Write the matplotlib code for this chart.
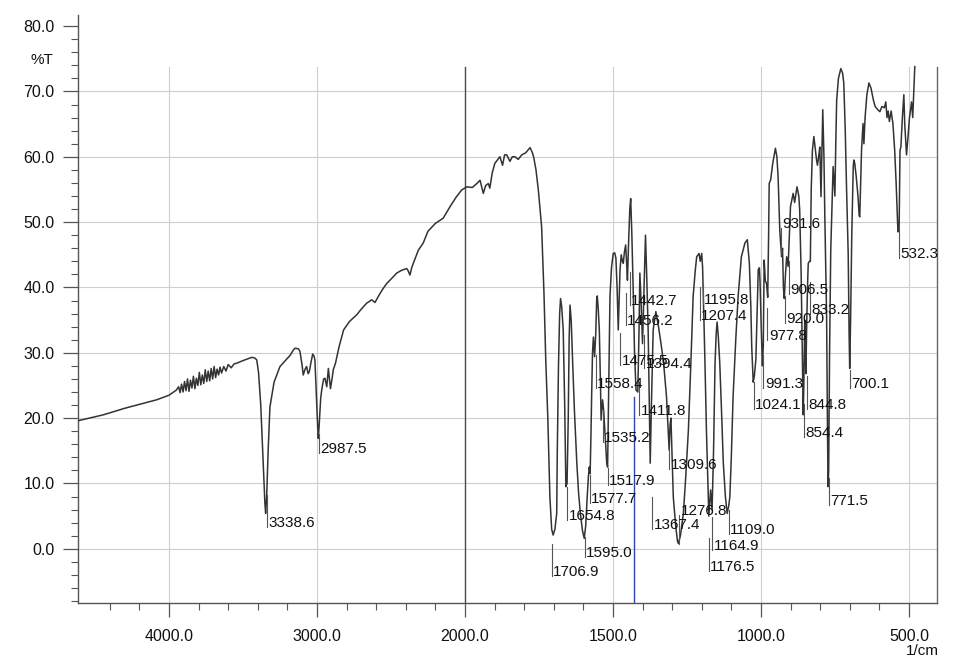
import numpy as np
import matplotlib
matplotlib.use("Agg")
import matplotlib.pyplot as plt
from matplotlib.ticker import FixedLocator

plt.rcParams['font.family'] = ['Liberation Sans', 'DejaVu Sans']

# spectrum: wavenumber (1/cm) and %T
wavenumber = [
    4615, 4444, 4300, 4200, 4084, 4000, 3950,
    3935, 3925, 3915, 3905, 3895, 3885, 3875, 3865, 3855, 3845, 3835, 3825,
    3815, 3805, 3795, 3785, 3775, 3765, 3755, 3745, 3735, 3725, 3715, 3705,
    3695, 3685, 3675, 3665, 3655, 3645, 3630, 3615, 3600, 3580, 3560,
    3543, 3500, 3441, 3420, 3407, 3395, 3380, 3365, 3352, 3347, 3340, 3330,
    3318, 3290, 3250, 3182, 3160, 3149, 3125, 3115, 3100, 3093, 3080, 3070,
    3060, 3052, 3040, 3029, 3020, 3014, 3005, 2995, 2991, 2985, 2975, 2968,
    2955, 2946, 2934, 2923, 2909, 2897, 2890, 2875, 2850, 2820, 2780, 2732,
    2700, 2664, 2630, 2608, 2586, 2560, 2529, 2490, 2461, 2430, 2394, 2385,
    2372, 2360, 2349, 2315, 2282, 2250, 2200, 2147, 2100, 2060, 2023, 1994,
    1975, 1960, 1949, 1938, 1930, 1921, 1916, 1908, 1899, 1882, 1873, 1866,
    1859, 1848, 1840, 1831, 1820, 1808, 1795, 1780, 1772, 1768, 1760, 1752,
    1741, 1733, 1727, 1720, 1713, 1707, 1702, 1696, 1690, 1688, 1684, 1680,
    1677, 1673, 1668, 1663, 1659, 1655, 1651, 1648, 1645, 1641, 1636, 1630,
    1622, 1616, 1610, 1603, 1597, 1592, 1587, 1583, 1580, 1577, 1574, 1572,
    1569, 1566, 1562, 1558, 1555, 1553, 1550, 1546, 1542, 1540, 1537, 1535,
    1531, 1526, 1521, 1518, 1514, 1510, 1505, 1499, 1494, 1490, 1486, 1482,
    1479, 1476, 1472, 1468, 1465, 1461, 1457, 1454, 1451, 1447, 1443, 1440,
    1436, 1431, 1427, 1422, 1416, 1412, 1409, 1405, 1400, 1395, 1390, 1386,
    1381, 1377, 1374, 1370, 1364, 1355, 1346, 1336, 1328, 1319, 1313, 1310,
    1307, 1304, 1300, 1296, 1288, 1282, 1279, 1272, 1262, 1254, 1245, 1237,
    1229, 1222, 1217, 1209, 1205, 1200, 1197, 1195, 1192, 1189, 1184, 1178,
    1176, 1173, 1170, 1165, 1160, 1155, 1151, 1148, 1144, 1139, 1133, 1127,
    1120, 1114, 1109, 1105, 1100, 1094, 1085, 1077, 1066, 1054, 1046, 1039,
    1034, 1031, 1026, 1022, 1017, 1013, 1009, 1005, 1003, 999, 995, 992,
    989, 985, 981, 977, 974, 972, 967, 960, 951, 946, 942, 936,
    933, 930, 927, 924, 921, 917, 913, 908, 904, 900, 891, 886,
    878, 872, 869, 864, 860, 857, 855, 852, 850, 848, 845, 842,
    840, 836, 833, 830, 826, 821, 812, 809, 805, 801, 797, 791,
    787, 784, 778, 775, 773, 771, 768, 764, 760, 756, 750, 747,
    744, 738, 730, 724, 720, 715, 711, 705, 702, 700, 697, 693,
    688, 686, 683, 678, 672, 668, 666, 663, 660, 655, 652, 648,
    642, 635, 628, 620, 614, 605, 598, 591, 583, 578, 574, 570,
    566, 560, 554, 548, 543, 537, 533, 530, 527, 522, 517, 514,
    508, 503, 498, 491, 487, 480,
]
transmittance = [
    19.6, 20.5, 21.5, 22.1, 22.8, 23.5, 24.3,
    24.8, 23.9, 25.2, 24.0, 25.6, 24.2, 26.0, 24.1, 25.8, 24.6, 26.4, 24.5,
    26.1, 25.0, 27.0, 25.1, 26.6, 25.3, 27.4, 25.6, 27.2, 25.7, 27.6, 26.0,
    27.9, 26.2, 27.5, 26.6, 27.8, 26.9, 27.9, 27.2, 28.2, 27.7, 28.3,
    28.4, 28.8, 29.3, 29.2, 28.9, 27.0, 22.0, 14.0, 7.0, 5.4, 8.0, 15.0,
    21.7, 25.5, 27.9, 29.6, 30.4, 30.7, 30.6, 30.2, 28.0, 26.6, 27.5, 27.9,
    26.8, 27.1, 28.6, 29.8, 29.5, 28.9, 24.0, 18.5, 16.9, 19.0, 23.0, 24.3,
    26.0, 26.1, 24.8, 27.6, 24.5, 26.2, 27.4, 28.4, 31.0, 33.5, 34.8, 35.8,
    36.7, 37.6, 38.1, 37.7, 38.6, 39.6, 40.6, 41.5, 42.2, 42.6, 42.9, 42.6,
    41.9, 43.0, 43.7, 45.7, 46.8, 48.6, 49.8, 50.6, 52.4, 53.8, 54.9, 55.4,
    55.3, 55.9, 56.4, 54.4, 55.6, 55.9, 55.2, 57.5, 59.0, 60.0, 58.7, 60.3,
    60.3, 59.3, 60.0, 60.0, 59.6, 60.3, 60.6, 61.4, 60.6, 60.0, 58.0, 54.9,
    49.3, 39.1, 28.9, 20.0, 7.9, 3.0, 2.1, 3.0, 5.4, 15.0, 28.0, 36.0,
    38.3, 37.0, 33.5, 22.0, 9.5, 10.0, 20.0, 32.0, 37.3, 35.0, 28.4, 21.0,
    13.1, 8.5, 5.4, 2.8, 1.6, 3.5, 7.9, 11.0, 12.5, 11.5, 18.0, 23.3,
    30.0, 32.4, 29.4, 33.0, 38.0, 38.7, 37.0, 33.5, 25.0, 19.7, 21.5, 22.8,
    21.0, 17.0, 13.1, 12.5, 25.0, 38.6, 43.0, 45.2, 45.3, 44.5, 40.0, 33.5,
    38.0, 42.7, 45.0, 44.0, 43.7, 45.5, 46.5, 44.0, 41.1, 47.0, 52.0, 53.6,
    48.0, 38.6, 30.0, 24.3, 24.0, 33.0, 42.2, 38.0, 31.4, 40.0, 48.0, 42.0,
    33.5, 22.0, 13.1, 22.0, 33.5, 36.3, 34.0, 30.9, 28.0, 23.3, 18.0, 15.1,
    19.0, 20.0, 14.0, 7.9, 3.5, 1.2, 0.8, 2.0, 5.4, 11.0, 18.2, 28.0,
    38.6, 42.5, 44.7, 45.2, 44.0, 45.2, 43.0, 39.6, 34.0, 28.4, 18.0, 7.9,
    5.0, 7.0, 9.0, 6.0, 15.0, 28.4, 33.0, 34.7, 32.5, 28.4, 21.0, 13.1,
    8.0, 5.4, 6.5, 7.9, 14.0, 23.3, 32.0, 38.6, 44.7, 46.8, 47.3, 43.7,
    37.0, 30.9, 25.5, 26.5, 29.0, 36.0, 42.7, 43.0, 41.0, 34.0, 28.0, 31.0,
    44.2, 41.0, 40.6, 38.5, 48.0, 55.9, 56.5, 59.0, 61.3, 60.0, 57.0, 48.5,
    46.5, 44.7, 46.0, 40.0, 38.3, 42.0, 44.7, 43.2, 48.0, 52.4, 54.4, 53.0,
    55.4, 54.0, 51.9, 42.0, 30.0, 20.5, 25.0, 35.0, 30.0, 26.8, 35.0, 41.0,
    43.7, 44.0, 44.0, 55.0, 61.0, 63.1, 59.5, 58.7, 60.0, 61.5, 53.9, 67.2,
    60.0, 50.8, 35.5, 18.0, 9.5, 12.0, 30.0, 45.7, 52.0, 58.5, 54.0, 62.0,
    68.7, 72.0, 73.5, 72.8, 71.3, 64.0, 55.9, 45.0, 33.0, 27.6, 35.0, 48.0,
    58.5, 59.5, 59.0, 57.0, 54.0, 51.0, 50.8, 56.0, 61.0, 65.1, 62.0, 66.0,
    69.5, 71.3, 70.5, 68.7, 67.7, 67.2, 66.9, 67.7, 67.5, 68.4, 66.0, 67.0,
    65.4, 67.0, 65.1, 61.0, 55.9, 48.5, 49.0, 61.0, 61.5, 66.0, 69.5, 65.0,
    60.3, 63.0, 66.0, 68.4, 66.0, 73.8,
]

# peak labels and the %T level where each label sits
peak_labels = [
    "3338.6", "2987.5", "1706.9", "1654.8", "1595.0", "1577.7", "1558.4",
    "1535.2", "1517.9", "1475.5", "1456.2", "1442.7", "1411.8", "1394.4",
    "1367.4", "1309.6", "1276.8", "1207.4", "1195.8", "1176.5", "1164.9",
    "1109.0", "1024.1", "991.3", "977.8", "931.6", "920.0", "906.5",
    "854.4", "844.8", "833.2", "771.5", "700.1", "532.3",
]
label_T = [
    3.3, 14.6, -4.2, 4.4, -1.3, 7.0, 24.6,
    16.3, 9.7, 28.1, 34.2, 37.3, 20.5, 27.7,
    3.0, 12.2, 5.1, 35.0, 37.5, -3.4, -0.2,
    2.2, 21.4, 24.6, 31.9, 49.1, 34.5, 39.0,
    17.1, 21.4, 35.9, 6.7, 24.6, 44.5,
]

x_major = [4000, 3000, 2000, 1500, 1000, 500]
x_minor = [4400, 4200, 3800, 3600, 3400, 3200, 2800, 2600, 2400, 2200,
           1900, 1800, 1700, 1600, 1400, 1300, 1200, 1100, 900, 800, 700, 600]
y_major = [0, 10, 20, 30, 40, 50, 60, 70, 80]
cursor_wn = 1429


def fwd(w):
    w = np.asarray(w, dtype=float)
    return np.where(w > 2000, 2000 + (w - 2000) / 2, w)


def inv(u):
    u = np.asarray(u, dtype=float)
    return np.where(u > 2000, 2000 + (u - 2000) * 2, u)


fig = plt.figure(figsize=(9.56, 6.62), dpi=100)
ax = fig.add_axes([78 / 956, 59 / 662, 859 / 956, 588 / 662])
ax.set_xscale('function', functions=(fwd, inv))
x_lo, x_hi = 4615, 405
y_lo, y_hi = -8.3, 81.7
ax.set_xlim(x_lo, x_hi)
ax.set_ylim(y_lo, y_hi)

frame_top = (73.7 - y_lo) / (y_hi - y_lo)
grid_c = '#cfcfcf'
for y in y_major[:-1]:
    ax.axhline(y, color=grid_c, lw=0.8, zorder=1)
for x in x_major:
    if x == 2000:
        ax.axvline(x, ymax=frame_top, color='#4a4a4a', lw=1.0, zorder=1)
    else:
        ax.axvline(x, ymax=frame_top, color=grid_c, lw=0.8, zorder=1)
ax.axvline(x_hi, ymax=frame_top, color='#666666', lw=1.0, zorder=1, clip_on=False)

wn = np.array(wavenumber, dtype=float)
tr = np.array(transmittance, dtype=float)
ax.plot(wn, tr, color='#333333', lw=1.1, zorder=3)

ax.axvline(cursor_wn, ymax=(23.3 - y_lo) / (y_hi - y_lo), color='#3045b5', lw=1.0, zorder=2)

# peak markers
for lab, ty in zip(peak_labels, label_T):
    x = float(lab)
    curve = np.interp(x, wn[::-1], tr[::-1])
    top = min(curve - 0.5, ty + 5)
    ax.plot([x, x], [ty, top], color='#555555', lw=0.8, zorder=4)
    ax.annotate(lab, xy=(x, ty), xytext=(1, 0), textcoords='offset points',
                ha='left', va='baseline', fontsize=11, color='#111111', zorder=5)

ax.spines['top'].set_visible(False)
ax.spines['right'].set_visible(False)
for s in ('left', 'bottom'):
    ax.spines[s].set_color('#555555')
    ax.spines[s].set_linewidth(1.0)

ax.xaxis.set_major_locator(FixedLocator(x_major))
ax.xaxis.set_minor_locator(FixedLocator(x_minor))
ax.set_xticklabels([f"{v:.1f}" for v in x_major])
ax.yaxis.set_major_locator(FixedLocator(y_major))
ax.yaxis.set_minor_locator(FixedLocator(list(range(-8, 81, 2))))
ax.set_yticklabels([f"{v:.1f}" for v in y_major])

ax.tick_params(axis='x', which='major', length=10, width=0.9, color='#555555',
               pad=9, labelsize=11.5, labelcolor='#111111')
ax.tick_params(axis='x', which='minor', length=5, width=0.8, color='#555555')
ax.tick_params(axis='y', which='major', length=11, width=0.9, color='#555555',
               pad=6, labelsize=11.5, labelcolor='#111111')
ax.tick_params(axis='y', which='minor', length=5, width=0.8, color='#555555')

ax.text(-0.029, 74.8, "%T", transform=ax.get_yaxis_transform(),
        ha='right', va='center', fontsize=11, color='#111111')
fig.text(939 / 956, 1 - 651 / 662, "1/cm", ha='right', va='center',
         fontsize=11, color='#111111')

plt.savefig('out.png', dpi=100)
